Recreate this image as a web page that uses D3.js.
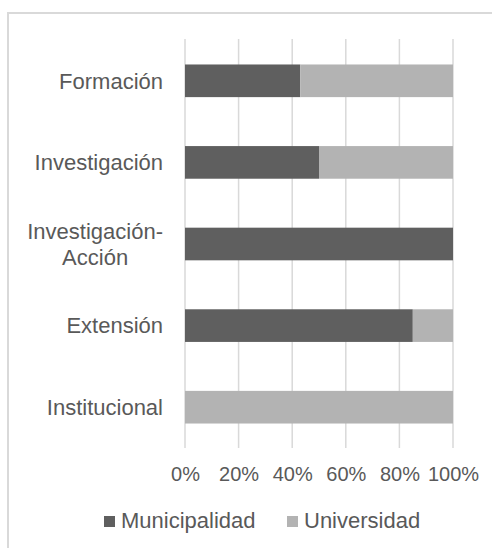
<!DOCTYPE html>
<html>
<head>
<meta charset="utf-8">
<script src="https://cdn.jsdelivr.net/npm/d3@7/dist/d3.min.js"></script>
<style>
  html, body { margin: 0; padding: 0; background: #fff; }
  svg { display: block; }
  text { font-family: "Liberation Sans", Arial, sans-serif; fill: #595959; }
</style>
</head>
<body>
<svg id="chart" width="492" height="548"></svg>
<script>
const categories = ["Formación", "Investigación", "Investigación-\nAcción", "Extensión", "Institucional"];
const municipalidad = [0.43, 0.50, 1.00, 0.85, 0.00];
const universidad   = [0.57, 0.50, 0.00, 0.15, 1.00];
const seriesNames = ["Municipalidad", "Universidad"];
const seriesColors = ["#5f5f5f", "#b3b3b3"];
const tickValues = [0, 0.2, 0.4, 0.6, 0.8, 1.0];
const tickLabels = ["0%", "20%", "40%", "60%", "80%", "100%"];

const svg = d3.select("#chart");

// outer chart border
svg.append("rect")
  .attr("x", 8).attr("y", 13)
  .attr("width", 520).attr("height", 580)
  .attr("fill", "none")
  .attr("stroke", "#d9d9d9")
  .attr("stroke-width", 2);

const x = d3.scaleLinear().domain([0, 1]).range([185, 453]);
const y = d3.scaleBand().domain(categories).range([40, 448])
  .paddingInner(0.6).paddingOuter(0.3);
const step = y.step();

// gridlines
svg.append("g").selectAll("line")
  .data(tickValues)
  .join("line")
  .attr("x1", d => x(d)).attr("x2", d => x(d))
  .attr("y1", 39).attr("y2", 448)
  .attr("stroke", "#d9d9d9")
  .attr("stroke-width", 1.5);

// stacked data
const rows = categories.map((c, i) => ({ cat: c, Municipalidad: municipalidad[i], Universidad: universidad[i] }));
const stack = d3.stack().keys(seriesNames)(rows);

svg.append("g").selectAll("g")
  .data(stack)
  .join("g")
  .attr("fill", (d, i) => seriesColors[i])
  .selectAll("rect")
  .data(d => d)
  .join("rect")
  .attr("x", d => x(d[0]))
  .attr("width", d => x(d[1]) - x(d[0]))
  .attr("y", d => y(d.data.cat))
  .attr("height", y.bandwidth());

// category labels
const labelRight = 163;
categories.forEach(c => {
  const lines = c.split("\n");
  const cy = y(c) + y.bandwidth() / 2;
  const lh = 26;
  const g = svg.append("g");
  const texts = lines.map((ln, j) => g.append("text")
    .attr("font-size", 22)
    .attr("y", cy + (j - (lines.length - 1) / 2) * lh)
    .attr("dy", "0.35em")
    .text(ln));
  const maxW = d3.max(texts, t => t.node().getComputedTextLength());
  texts.forEach(t => t.attr("text-anchor", "middle").attr("x", labelRight - maxW / 2));
});

// x axis tick labels
const xAxis = d3.axisBottom(x).tickValues(tickValues)
  .tickFormat((d, i) => tickLabels[i]).tickSize(0).tickPadding(0);
const ax = svg.append("g").attr("transform", "translate(0,467)").call(xAxis);
ax.select(".domain").remove();
ax.selectAll("text")
  .attr("font-size", 20)
  .attr("font-family", "Liberation Sans, Arial, sans-serif")
  .attr("fill", "#595959")
  .attr("dy", "0.71em");

// legend
const legendX = [104, 287];
const lg = svg.append("g");
seriesNames.forEach((s, i) => {
  lg.append("rect")
    .attr("x", legendX[i]).attr("y", 516)
    .attr("width", 11).attr("height", 11)
    .attr("fill", seriesColors[i]);
  lg.append("text")
    .attr("x", legendX[i] + 17).attr("y", 528)
    .attr("font-size", 22)
    .text(s);
});
</script>
</body>
</html>
